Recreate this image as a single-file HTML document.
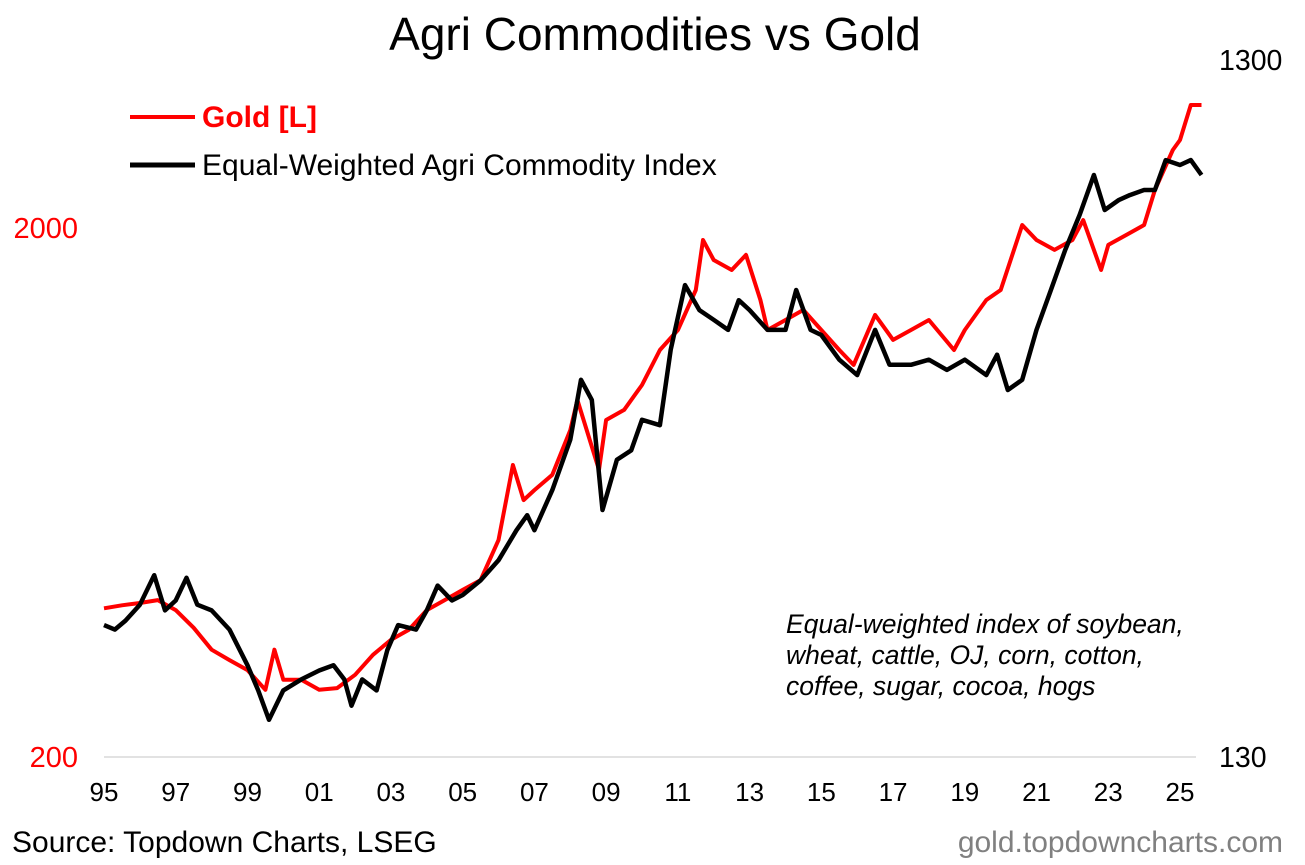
<!DOCTYPE html>
<html><head><meta charset="utf-8"><style>
body{margin:0;background:#fff;font-family:"Liberation Sans",Arial,sans-serif}
svg text{font-family:"Liberation Sans",Arial,sans-serif}
</style></head><body>
<svg id="chart" width="1305" height="860" viewBox="0 0 1305 860" xmlns="http://www.w3.org/2000/svg">
<text x="655" y="50" font-size="46" text-anchor="middle" fill="#000">Agri Commodities vs Gold</text>
<g>
<line x1="130" y1="117" x2="195" y2="117" stroke="#ff0000" stroke-width="4"/>
<text x="202" y="127" font-size="30" font-weight="bold" fill="#ff0000">Gold [L]</text>
<line x1="130" y1="165" x2="195" y2="165" stroke="#000" stroke-width="5"/>
<text x="202" y="175" font-size="30" fill="#000">Equal-Weighted Agri Commodity Index</text>
</g>
<line x1="104" y1="757" x2="1196" y2="757" stroke="#d9d9d9" stroke-width="1.5"/>
<g id="xticks"></g>
<g id="yl"></g>
<g id="yr"></g>
<g id="series"></g>
<g font-size="26.5" font-style="italic" fill="#000">
<text x="786" y="633">Equal-weighted index of soybean,</text>
<text x="786" y="664">wheat, cattle, OJ, corn, cotton,</text>
<text x="786" y="695">coffee, sugar, cocoa, hogs</text>
</g>
<text x="12" y="852" font-size="30" fill="#000">Source: Topdown Charts, LSEG</text>
<text x="1283" y="852" font-size="30" fill="#808080" text-anchor="end">gold.topdowncharts.com</text>
</svg>
<script>
const xTickLabels=["95","97","99","01","03","05","07","09","11","13","15","17","19","21","23","25"];
const leftTicks=[200,2000];
const rightTicks=[130,1300];
const goldYears=[1995.0,1995.5,1996.0,1996.5,1997.0,1997.5,1998.0,1998.5,1999.0,1999.5,1999.75,2000.0,2000.5,2001.0,2001.5,2002.0,2002.5,2003.0,2003.5,2004.0,2004.5,2005.0,2005.5,2006.0,2006.4,2006.7,2007.0,2007.5,2008.0,2008.2,2008.8,2009.0,2009.5,2010.0,2010.5,2011.0,2011.5,2011.7,2012.0,2012.5,2012.9,2013.3,2013.5,2014.0,2014.5,2015.0,2015.5,2015.9,2016.5,2017.0,2017.5,2018.0,2018.7,2019.0,2019.6,2020.0,2020.6,2021.0,2021.5,2022.0,2022.3,2022.8,2023.0,2023.5,2024.0,2024.3,2024.8,2025.0,2025.3,2025.6];
const goldValues=[382,387,391,396,379,351,319,305,292,268,319,280,280,268,270,286,312,333,348,379,396,414,432,514,713,612,639,683,830,946,698,867,906,1010,1176,1283,1527,1898,1740,1666,1779,1462,1283,1340,1400,1283,1176,1102,1370,1229,1283,1340,1176,1283,1462,1527,2026,1898,1818,1898,2070,1666,1858,1940,2026,2360,2808,2934,3416,3416];
const agriYears=[1995.0,1995.3,1995.6,1996.0,1996.4,1996.7,1997.0,1997.3,1997.6,1998.0,1998.5,1999.0,1999.3,1999.6,2000.0,2000.5,2001.0,2001.4,2001.7,2001.9,2002.2,2002.6,2002.9,2003.2,2003.7,2004.0,2004.3,2004.7,2005.0,2005.5,2006.0,2006.5,2006.8,2007.0,2007.5,2008.0,2008.3,2008.6,2008.9,2009.3,2009.7,2010.0,2010.5,2010.8,2011.2,2011.6,2012.0,2012.4,2012.7,2013.0,2013.5,2014.0,2014.3,2014.7,2015.0,2015.5,2016.0,2016.5,2016.9,2017.5,2018.0,2018.5,2019.0,2019.6,2019.9,2020.2,2020.6,2021.0,2021.4,2021.8,2022.2,2022.6,2022.9,2023.3,2023.6,2024.0,2024.3,2024.6,2025.0,2025.3,2025.6];
const agriValues=[201,198,204,215,237,211,218,235,215,211,198,176,162,147,162,168,173,176,168,154,168,162,185,201,198,211,229,218,222,233,249,275,289,275,314,371,452,423,294,347,358,396,389,499,618,569,551,533,588,569,533,533,608,533,524,483,459,533,475,475,483,467,483,459,491,437,452,533,608,694,779,889,792,819,832,846,846,934,919,934,889];

const NS="http://www.w3.org/2000/svg";
const X0=104,X1=1180,Y0=757;
function xs(yr){return X0+(yr-1995)*(X1-X0)/30;}
function yL(v){return Y0-529*Math.log10(v/200);}
function yR(v){return Y0-697*Math.log10(v/130);}
function mk(tag,attrs,parent){const e=document.createElementNS(NS,tag);for(const k in attrs)e.setAttribute(k,attrs[k]);parent.appendChild(e);return e;}

const xg=document.getElementById('xticks');
xTickLabels.forEach((l,i)=>{
  const t=mk('text',{x:xs(1995+2*i),y:801,'font-size':26,'text-anchor':'middle',fill:'#000'},xg);
  
  
  t.textContent=l;
});
const lg=document.getElementById('yl');
leftTicks.forEach(v=>{
  const t=mk('text',{x:78,y:yL(v)+10,'font-size':29,'text-anchor':'end',fill:'#ff0000'},lg);
  
  
  t.textContent=v;
});
const rg=document.getElementById('yr');
rightTicks.forEach(v=>{
  const t=mk('text',{x:1219,y:yR(v)+10,'font-size':28.5,'text-anchor':'start',fill:'#000'},rg);
  
  
  t.textContent=v;
});
const sg=document.getElementById('series');
const gp=mk('path',{d:goldYears.map((y,i)=>(i?'L':'M')+xs(y).toFixed(1)+','+yL(goldValues[i]).toFixed(1)).join(''),fill:'none',stroke:'#ff0000','stroke-width':4,'stroke-linejoin':'round'},sg);


const ap=mk('path',{d:agriYears.map((y,i)=>(i?'L':'M')+xs(y).toFixed(1)+','+yR(agriValues[i]).toFixed(1)).join(''),fill:'none',stroke:'#000','stroke-width':4.5,'stroke-linejoin':'round'},sg);


</script>
</body></html>
